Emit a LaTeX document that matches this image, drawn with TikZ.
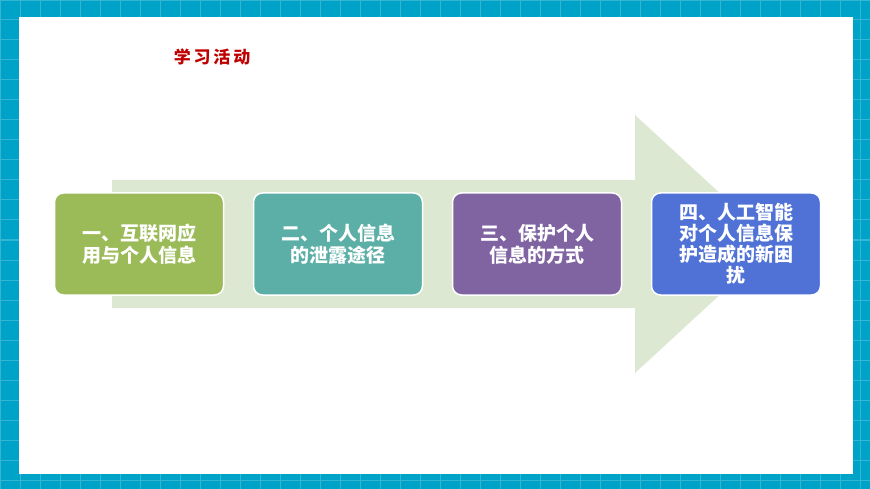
\documentclass[tikz,border=0pt]{standalone}
\usepackage{fontspec}
\newfontfamily\cjk{Noto Sans CJK SC}
\definecolor{bord}{RGB}{0,163,200}
\definecolor{ttl}{RGB}{192,0,0}
\definecolor{arr}{RGB}{221,232,210}
\definecolor{ca}{RGB}{155,187,89}
\definecolor{cb}{RGB}{91,175,166}
\definecolor{cc}{RGB}{128,100,162}
\definecolor{cd}{RGB}{80,114,214}
\begin{document}
\begin{tikzpicture}[x=1pt,y=-1pt,
  stepbox/.style={draw=white,line width=1.5pt,rounded corners=9pt,minimum width=169pt,minimum height=102pt,align=center,text=white,font=\cjk\bfseries\fontsize{19}{22}\selectfont}]
\useasboundingbox (0,0) rectangle (870,489);
\fill[bord] (0,0) rectangle (870,489);
\draw[white,opacity=0.2,line width=1pt] (0,0) grid[step=20pt] (870,489);
\fill[white] (19,17) rectangle (853,474);
\node[text=ttl,font=\cjk\bfseries\fontsize{17}{18}\selectfont] (title) at (212,57) {学\,习\,活\,动};
\fill[arr] (112,180) -- (635,180) -- (635,115) -- (775,244) -- (635,373) -- (635,308) -- (112,308) -- cycle;
\node[stepbox,fill=ca] (a) at (139,244) {一、互联网应\\用与个人信息};
\node[stepbox,fill=cb] (b) at (338,244) {二、个人信息\\的泄露途径};
\node[stepbox,fill=cc] (c) at (537,244) {三、保护个人\\信息的方式};
\node[stepbox,fill=cd,font=\cjk\bfseries\fontsize{19}{21}\selectfont] (d) at (736,244) {四、人工智能\\对个人信息保\\护造成的新困\\扰};
\end{tikzpicture}
\end{document}
